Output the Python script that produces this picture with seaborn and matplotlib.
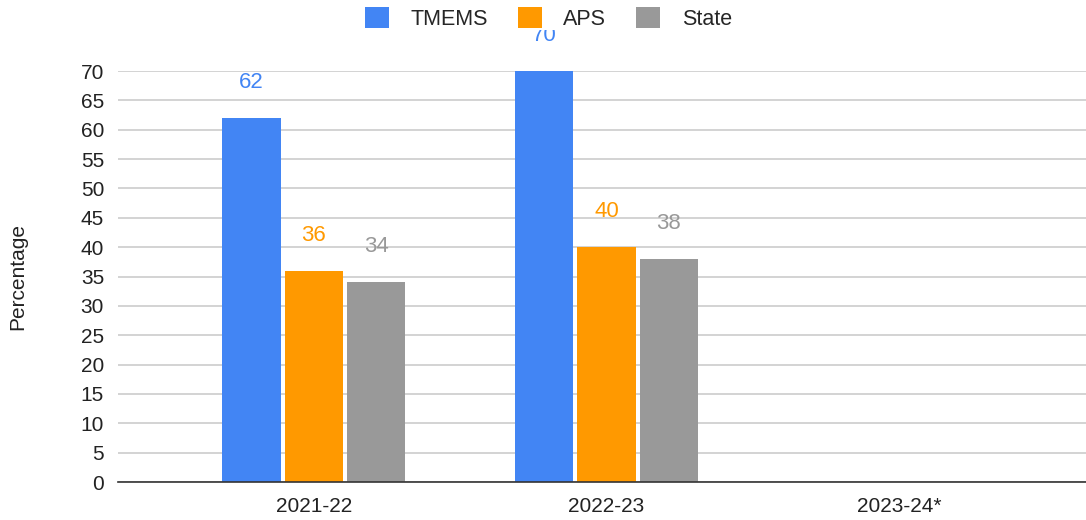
import numpy as np
import pandas as pd
import matplotlib
matplotlib.use('Agg')
import matplotlib.pyplot as plt
import seaborn as sns

# data
years = ['2021-22', '2022-23', '2023-24*']
groups = ['TMEMS', 'APS', 'State']
tmems = [62, 70, np.nan]
aps = [36, 40, np.nan]
state = [34, 38, np.nan]
colors = ['#4285F4', '#FF9900', '#999999']

df = pd.DataFrame({
    'year': years * 3,
    'group': ['TMEMS'] * 3 + ['APS'] * 3 + ['State'] * 3,
    'value': tmems + aps + state,
})

sns.set_theme(style='white')
plt.rcParams['font.family'] = ['Liberation Sans', 'DejaVu Sans']

fig = plt.figure(figsize=(10.86, 5.2), dpi=100)
ax = fig.add_axes([118 / 1086, 38 / 520, 968 / 1086, 411 / 520])

sns.barplot(data=df, x='year', y='value', hue='group', order=years,
            hue_order=groups, palette=colors, width=0.64, gap=0.065,
            saturation=1, linewidth=0, ax=ax, zorder=2)

for cont, c in zip(ax.containers, colors):
    labels = ['' if np.isnan(v) else f'{v:.0f}' for v in cont.datavalues]
    ax.bar_label(cont, labels=labels, padding=18, color=c, fontsize=16, clip_on=False)

ax.set_ylim(0, 70)
ax.set_xlim(-0.67, 2.64)
ax.set_yticks(range(0, 75, 5))
ax.yaxis.grid(True, color='#cccccc', linewidth=1.2, zorder=0)
ax.set_axisbelow(True)
for s in ['top', 'right', 'left']:
    ax.spines[s].set_visible(False)
ax.spines['bottom'].set_color('#333333')
ax.spines['bottom'].set_linewidth(1.2)
ax.spines['bottom'].set_zorder(3)
ax.tick_params(axis='both', length=0, labelsize=15, colors='#222222')
ax.tick_params(axis='y', pad=10)
ax.tick_params(axis='x', pad=11)
ax.set_xlabel('')
ax.set_ylabel('Percentage', fontsize=15, color='#222222')
ax.yaxis.set_label_coords(-0.094, 0.5)

handles, lbls = ax.get_legend_handles_labels()
ax.get_legend().remove()
leg = fig.legend(handles, lbls, loc='center', bbox_to_anchor=(0.505, 0.965), ncol=3,
                 frameon=True, fontsize=15.5, handlelength=1.1, handleheight=1.1,
                 columnspacing=1.4, handletextpad=1.0, borderpad=0.0)
leg.get_frame().set_facecolor('white')
leg.get_frame().set_edgecolor('none')
leg.get_frame().set_alpha(1)
leg.set_zorder(10)

plt.savefig('out.png', dpi=100)
